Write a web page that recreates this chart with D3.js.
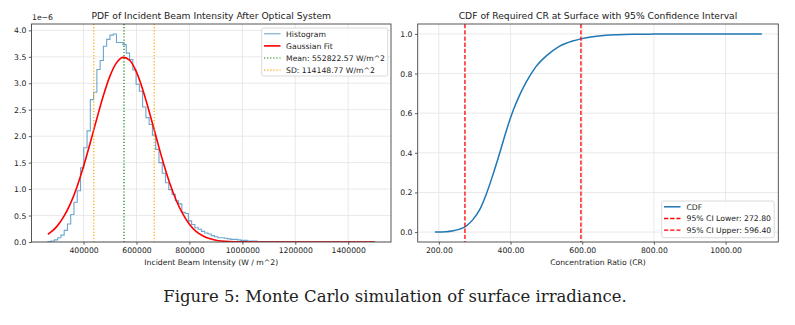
<!DOCTYPE html>
<html lang="en">
<head>
<meta charset="UTF-8">
<title>Monte Carlo simulation of surface irradiance</title>
<script src="https://d3js.org/d3.v7.min.js"></script>
<style>
    body { margin: 0; background: #fff; }
    svg { display: block; }
    text { font-family: 'DejaVu Sans', sans-serif; fill: #222; }
    .grid line { stroke: #e3e3e3; stroke-width: 0.8; }
</style>
</head>
<body>
<svg id="chart" width="795" height="325"></svg>
<script>
// ---- left panel data: histogram of incident intensity (density, x1e-6) ----
const histMin = 265000;
const histMax = 1500000;
const histDensity = [
    0.01, 0.02, 0.04, 0.08, 0.13, 0.22, 0.34, 0.52, 0.75, 0.97,
    1.40, 1.78, 2.10, 2.69, 2.83, 3.26, 3.43, 3.70, 3.83, 3.91,
    3.93, 3.77, 3.77, 3.73, 3.57, 3.45, 3.25, 2.98, 2.85, 2.55,
    2.35, 2.22, 2.02, 1.75, 1.50, 1.30, 1.12, 0.99, 0.90, 0.78,
    0.72, 0.56, 0.54, 0.40, 0.33, 0.27, 0.24, 0.20, 0.17, 0.15,
    0.12, 0.10, 0.08, 0.08, 0.07, 0.06, 0.05, 0.05, 0.04, 0.03,
    0.03, 0.02, 0.02, 0.02, 0.01, 0.01, 0.01, 0.01, 0.008, 0.006,
    0.005, 0.004, 0.004, 0.003, 0.002, 0.002, 0.003, 0.001, 0.001, 0.002,
    0.0, 0.001, 0.0, 0.001, 0.0, 0.0, 0.001, 0.0, 0.0, 0.0,
    0.0, 0.001, 0.0, 0.0, 0.0, 0.0, 0.0, 0.0, 0.0, 0.002
];
// gaussian fit curve
const gaussX = [265000, 275000, 300000, 325000, 350000, 375000, 400000, 425000, 450000,
    475000, 500000, 525000, 550000, 575000, 600000, 625000, 650000, 675000, 700000,
    725000, 750000, 775000, 800000, 825000, 850000, 875000, 900000, 950000, 1000000,
    1100000, 1300000, 1500000];
const gaussY = [0.145, 0.18, 0.30, 0.48, 0.72, 1.04, 1.43, 1.87, 2.33,
    2.77, 3.14, 3.39, 3.49, 3.43, 3.21, 2.86, 2.43, 1.97, 1.52,
    1.12, 0.79, 0.53, 0.335, 0.20, 0.118, 0.065, 0.034, 0.008, 0.0015,
    0, 0, 0];
const meanVal = 552822.57;
const sdVal = 114148.77;
const leftXTicks = [400000, 600000, 800000, 1000000, 1200000, 1400000];
const leftYTicks = [0, 0.5, 1.0, 1.5, 2.0, 2.5, 3.0, 3.5, 4.0];

// ---- right panel data: CDF of required concentration ratio ----
const cdfCR = [189, 220, 240, 258, 274, 295, 314, 332, 351, 370, 388, 407, 425, 444,
    471, 499, 536, 573, 596, 629, 666, 700, 750, 800, 900, 1000, 1101];
const cdfP = [0.0, 0.002, 0.007, 0.015, 0.028, 0.063, 0.113, 0.19, 0.29, 0.40, 0.51, 0.612, 0.69, 0.758,
    0.835, 0.888, 0.937, 0.964, 0.975, 0.986, 0.993, 0.996, 0.998, 0.999, 1.0, 1.0, 1.0];
const ciLower = 272.80;
const ciUpper = 596.40;
const rightXTicks = [200, 400, 600, 800, 1000];
const rightYTicks = [0, 0.2, 0.4, 0.6, 0.8, 1.0];

const svg = d3.select("#chart");
const plotTop = 24, plotBottom = 242;
const tickLen = 2.7, fs = 7.7;

function panel(x0, x1, xScale, yScale, xTicks, yTicks, xFmt, yFmt) {
    const g = svg.append("g");
    // grid
    const grid = g.append("g").attr("class", "grid");
    xTicks.forEach(t => grid.append("line")
        .attr("x1", xScale(t)).attr("x2", xScale(t)).attr("y1", plotTop).attr("y2", plotBottom));
    yTicks.forEach(t => grid.append("line")
        .attr("x1", x0).attr("x2", x1).attr("y1", yScale(t)).attr("y2", yScale(t)));
    // axes
    const xa = g.append("g").attr("transform", `translate(0,${plotBottom})`)
        .call(d3.axisBottom(xScale).tickValues(xTicks).tickFormat(xFmt)
            .tickSize(tickLen).tickPadding(2.5));
    const ya = g.append("g").attr("transform", `translate(${x0},0)`)
        .call(d3.axisLeft(yScale).tickValues(yTicks).tickFormat(yFmt)
            .tickSize(tickLen).tickPadding(2.5));
    [xa, ya].forEach(a => {
        a.select(".domain").remove();
        a.selectAll("text").style("font-size", fs + "px").attr("fill", "#222")
            .style("font-family", "'DejaVu Sans', sans-serif");
        a.selectAll("line").attr("stroke", "#333").attr("stroke-width", 0.8);
    });
    return g;
}

function frame(g, x0, x1) {
    g.append("rect").attr("x", x0).attr("y", plotTop).attr("width", x1 - x0).attr("height", plotBottom - plotTop)
        .attr("fill", "none").attr("stroke", "#444").attr("stroke-width", 0.9);
}

// ================= left panel =================
const lx0 = 31.5, lx1 = 391;
const xL = d3.scaleLinear().domain([203250, 1561750]).range([lx0, lx1]);
const yL = d3.scaleLinear().domain([0, 4.12]).range([plotBottom, plotTop]);
const gL = panel(lx0, lx1, xL, yL, leftXTicks, leftYTicks, d3.format("d"), d3.format(".1f"));

svg.append("clipPath").attr("id", "clipL").append("rect")
    .attr("x", lx0).attr("y", plotTop).attr("width", lx1 - lx0).attr("height", plotBottom - plotTop);

const binW = (histMax - histMin) / histDensity.length;
const stepPts = [[histMin, 0]];
histDensity.forEach((v, i) => {
    stepPts.push([histMin + i * binW, v]);
    stepPts.push([histMin + (i + 1) * binW, v]);
});
stepPts.push([histMax, 0]);

const lineL = d3.line().x(d => xL(d[0])).y(d => yL(d[1]));
const plotL = gL.append("g").attr("clip-path", "url(#clipL)");
plotL.append("path").datum(stepPts).attr("d", lineL)
    .attr("fill", "none").attr("stroke", "#1f77b4").attr("stroke-opacity", 0.65).attr("stroke-width", 1.1);

const gaussPts = gaussX.map((x, i) => [x, gaussY[i]]);
plotL.append("path").datum(gaussPts)
    .attr("d", d3.line().x(d => xL(d[0])).y(d => yL(d[1])).curve(d3.curveMonotoneX))
    .attr("fill", "none").attr("stroke", "#ff0000").attr("stroke-width", 1.6);

plotL.append("line").attr("x1", xL(meanVal)).attr("x2", xL(meanVal)).attr("y1", plotTop).attr("y2", plotBottom)
    .attr("stroke", "#008000").attr("stroke-width", 1.2).attr("stroke-dasharray", "1.2,1.9");
[meanVal - sdVal, meanVal + sdVal].forEach(v => {
    plotL.append("line").attr("x1", xL(v)).attr("x2", xL(v)).attr("y1", plotTop).attr("y2", plotBottom)
        .attr("stroke", "#ffa500").attr("stroke-width", 1.2).attr("stroke-dasharray", "1.2,1.9");
});
frame(gL, lx0, lx1);

gL.append("text").attr("x", lx0 + 0.5).attr("y", 20).style("font-size", fs + "px").text("1e\u22126");
gL.append("text").attr("x", (lx0 + lx1) / 2).attr("y", 18.5).attr("text-anchor", "middle")
    .style("font-size", "9.2px").text("PDF of Incident Beam Intensity After Optical System");
gL.append("text").attr("x", (lx0 + lx1) / 2).attr("y", 265).attr("text-anchor", "middle")
    .style("font-size", fs + "px").text("Incident Beam Intensity (W / m^2)");

// legend (left)
const legL = gL.append("g");
legL.append("rect").attr("x", 261.7).attr("y", 28).attr("width", 126).attr("height", 48).attr("rx", 2)
    .attr("fill", "#fff").attr("fill-opacity", 0.85).attr("stroke", "#d0d0d0").attr("stroke-width", 0.8);
const legLItems = [
    { label: "Histogram", color: "#1f77b4", op: 0.65, w: 1.1, dash: null },
    { label: "Gaussian Fit", color: "#ff0000", op: 1, w: 1.6, dash: null },
    { label: "Mean: 552822.57 W/m^2", color: "#008000", op: 1, w: 1.2, dash: "1.2,1.9" },
    { label: "SD: 114148.77 W/m^2", color: "#ffa500", op: 1, w: 1.2, dash: "1.2,1.9" }
];
legLItems.forEach((d, i) => {
    const y = 33.8 + i * 12.1;
    legL.append("line").attr("x1", 264).attr("x2", 280.5).attr("y1", y).attr("y2", y)
        .attr("stroke", d.color).attr("stroke-opacity", d.op).attr("stroke-width", d.w)
        .attr("stroke-dasharray", d.dash);
    legL.append("text").attr("x", 286).attr("y", y + 2.8).style("font-size", fs + "px").text(d.label);
});

// ================= right panel =================
const rx0 = 417.7, rx1 = 778.3;
const xR = d3.scaleLinear().domain([141, 1147]).range([rx0, rx1]);
const yR = d3.scaleLinear().domain([-0.05, 1.05]).range([plotBottom, plotTop]);
const gR = panel(rx0, rx1, xR, yR, rightXTicks, rightYTicks, d3.format(".2f"), d3.format(".1f"));

const cdfPts = cdfCR.map((c, i) => [c, cdfP[i]]);
gR.append("path").datum(cdfPts)
    .attr("d", d3.line().x(d => xR(d[0])).y(d => yR(d[1])).curve(d3.curveMonotoneX))
    .attr("fill", "none").attr("stroke", "#1f77b4").attr("stroke-width", 1.5);
[ciLower, ciUpper].forEach(v => {
    gR.append("line").attr("x1", xR(v)).attr("x2", xR(v)).attr("y1", plotTop).attr("y2", plotBottom)
        .attr("stroke", "#ff0000").attr("stroke-width", 1.3).attr("stroke-dasharray", "4.3,1.9");
});
frame(gR, rx0, rx1);

gR.append("text").attr("x", (rx0 + rx1) / 2).attr("y", 18.5).attr("text-anchor", "middle")
    .style("font-size", "9.2px").text("CDF of Required CR at Surface with 95% Confidence Interval");
gR.append("text").attr("x", (rx0 + rx1) / 2).attr("y", 265).attr("text-anchor", "middle")
    .style("font-size", fs + "px").text("Concentration Ratio (CR)");

// legend (right)
const legR = gR.append("g");
legR.append("rect").attr("x", 661.7).attr("y", 201).attr("width", 112.5).attr("height", 36.7).attr("rx", 2)
    .attr("fill", "#fff").attr("fill-opacity", 0.85).attr("stroke", "#d0d0d0").attr("stroke-width", 0.8);
const legRItems = [
    { label: "CDF", color: "#1f77b4", w: 1.5, dash: null },
    { label: "95% CI Lower: " + ciLower.toFixed(2), color: "#ff0000", w: 1.3, dash: "4.3,1.9" },
    { label: "95% CI Upper: " + ciUpper.toFixed(2), color: "#ff0000", w: 1.3, dash: "4.3,1.9" }
];
legRItems.forEach((d, i) => {
    const y = 206.8 + i * 11.7;
    legR.append("line").attr("x1", 664).attr("x2", 680.5).attr("y1", y).attr("y2", y)
        .attr("stroke", d.color).attr("stroke-width", d.w).attr("stroke-dasharray", d.dash);
    legR.append("text").attr("x", 686.5).attr("y", y + 2.8).style("font-size", fs + "px").text(d.label);
});

// caption - sized so it spans roughly 163..627 like the page figure
const caption = svg.append("text").attr("x", 395).attr("y", 302).attr("text-anchor", "middle")
    .style("font-family", "'DejaVu Serif', 'Liberation Serif', serif").style("font-size", "15px")
    .attr("fill", "#000").text("Figure 5: Monte Carlo simulation of surface irradiance.");
const capW = caption.node().getComputedTextLength();
caption.style("font-size", (15 * 464 / capW).toFixed(2) + "px");
</script>
</body>
</html>
